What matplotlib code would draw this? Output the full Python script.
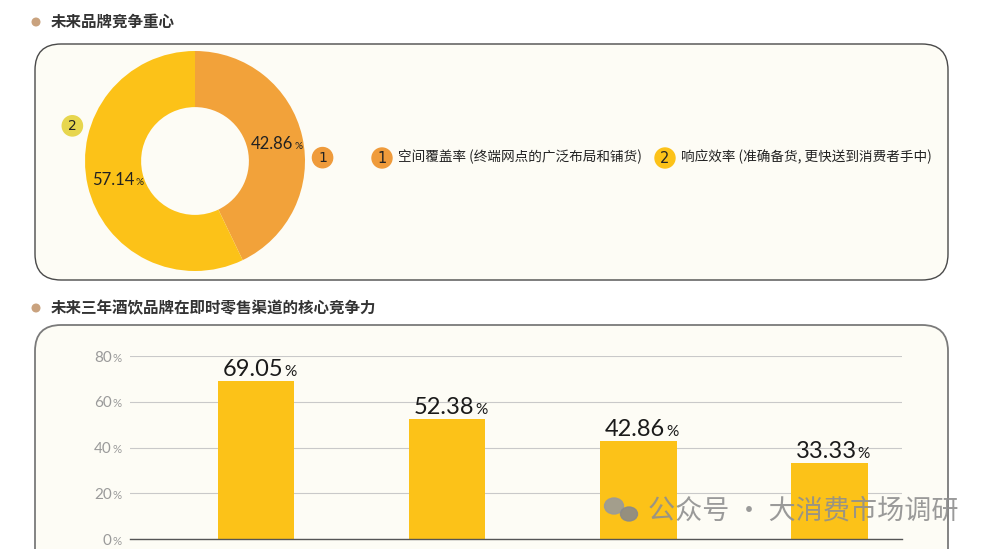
import numpy as np
import matplotlib
matplotlib.use('Agg')
import matplotlib.pyplot as plt
from matplotlib.patches import FancyBboxPatch, Circle, Ellipse
from matplotlib.transforms import offset_copy, blended_transform_factory

plt.rcParams['font.family'] = ['Noto Sans CJK SC', 'DejaVu Sans']

# data
title_top = '未来品牌竞争重心'
title_bottom = '未来三年酒饮品牌在即时零售渠道的核心竞争力'
focus_labels = ['空间覆盖率 (终端网点的广泛布局和铺货)', '响应效率 (准确备货, 更快送到消费者手中)']
focus_shares = [42.86, 57.14]
bar_values = [69.05, 52.38, 42.86, 33.33]
y_ticks = [0, 20, 40, 60, 80]
watermark = '公众号 · 大消费市场调研'

ORANGE = '#F2A23A'
YELLOW = '#FCC218'
PANEL = '#FDFCF5'
W, H = 990, 549

fig = plt.figure(figsize=(W / 100, H / 100), dpi=100)
fig.patch.set_facecolor('white')
renderer = fig.canvas.get_renderer()

# background layer in pixel units
bg = fig.add_axes([0, 0, 1, 1])
bg.set_xlim(0, W)
bg.set_ylim(H, 0)
bg.axis('off')

bg.add_patch(FancyBboxPatch((35, 44), 913, 236, boxstyle='round,pad=0,rounding_size=26',
                            fc=PANEL, ec='#4a4a4a', lw=1.0))
bg.add_patch(FancyBboxPatch((35, 325), 913, 260, boxstyle='round,pad=0,rounding_size=26',
                            fc=PANEL, ec='#7a7a7a', lw=1.3))

for ty, txt in [(22, title_top), (308, title_bottom)]:
    bg.add_patch(Circle((36, ty), 3.8, color='#C9A27E'))
    bg.text(51, ty, txt, fontsize=11.2, fontweight='bold', color='#333333', va='center')


def pct_text(ax, x, y, num, size, color, trans, align='center', dy=0.0, pct_scale=0.65, gap=0.6):
    t_num = ax.text(x, y, num, fontsize=size, color=color, family='Lato',
                    ha='left', va='baseline', transform=trans, clip_on=False)
    t_pct = ax.text(x, y, '%', fontsize=size * pct_scale, color=color, family='Lato',
                    ha='left', va='baseline', transform=trans, clip_on=False)
    w_num = t_num.get_window_extent(renderer).width * 72 / fig.dpi
    w_pct = t_pct.get_window_extent(renderer).width * 72 / fig.dpi
    total = w_num + gap + w_pct
    shift = {'center': -w_num / 2 - w_pct / 4, 'right': -total, 'left': 0}[align]
    t_num.set_transform(offset_copy(trans, fig=fig, x=shift, y=dy, units='points'))
    t_pct.set_transform(offset_copy(trans, fig=fig, x=shift + w_num + gap, y=dy, units='points'))


# donut
cx, cy, R = 195, 161, 110
half = 120
ax_d = fig.add_axes([(cx - half) / W, (H - cy - half) / H, 2 * half / W, 2 * half / H])
ax_d.set_facecolor('none')
ax_d.pie(focus_shares, colors=[ORANGE, YELLOW], startangle=90, counterclock=False,
         radius=1, wedgeprops=dict(width=0.51, edgecolor='none'))
lim = half / R
ax_d.set_xlim(-lim, lim)
ax_d.set_ylim(-lim, lim)
ax_d.set_aspect('equal')
ax_d.axis('off')

cum = np.cumsum([0] + focus_shares)
for i, v in enumerate(focus_shares):
    mid = np.deg2rad(90 - 360 * (cum[i] + v / 2) / 100)
    r = 0.74
    pct_text(ax_d, r * np.cos(mid), r * np.sin(mid), f'{v:.2f}', 12, '#222222',
             ax_d.transData, align='center', dy=-4.3, pct_scale=0.6)

marker_angles = [1.5, 164]
marker_colors = ['#EF9B3B', '#E7D64E']
for i, ang in enumerate(marker_angles):
    a = np.deg2rad(ang)
    mx, my = 1.16 * np.cos(a), 1.16 * np.sin(a)
    ax_d.add_patch(Circle((mx, my), 0.092, color=marker_colors[i], clip_on=False))
    ax_d.text(mx, my, str(i + 1), fontsize=10, color='#222222', ha='center', va='center',
              family='DejaVu Sans', clip_on=False)

# legend
legend_x = [382, 665]
legend_colors = ['#EF9B3B', YELLOW]
for i, lab in enumerate(focus_labels):
    bg.add_patch(Circle((legend_x[i], 158), 10, color=legend_colors[i]))
    bg.text(legend_x[i], 158.5, str(i + 1), fontsize=10.5, color='#222222', ha='center',
            va='center', family='DejaVu Sans')
    bg.text(legend_x[i] + 16, 157, lab, fontsize=9.8, color='#222222', va='center')

# bar chart
ax = fig.add_axes([130 / W, (H - 539) / H, (902 - 130) / W, (539 - 356) / H])
ax.set_facecolor('none')
x = np.arange(len(bar_values))
ax.bar(x, bar_values, width=0.40, color=YELLOW, zorder=2)
ax.set_xlim(-0.66, 3.38)
ax.set_ylim(0, 80)
ax.set_yticks(y_ticks)
ax.set_yticklabels([])
ax.set_xticks([])
ax.tick_params(length=0)
ax.yaxis.grid(True, color='#C9C9C9', lw=0.8)
ax.set_axisbelow(True)
for s in ['top', 'right', 'left']:
    ax.spines[s].set_visible(False)
ax.spines['bottom'].set_color('#555555')
ax.spines['bottom'].set_linewidth(1.0)

for xi, v in zip(x, bar_values):
    pct_text(ax, xi, v, f'{v:.2f}', 17, '#1a1a1a', ax.transData, align='center', dy=3.5)

ytrans = blended_transform_factory(ax.transAxes, ax.transData)
for t in y_ticks:
    pct_text(ax, -0.011, t, f'{t}', 11, '#9a9a9a', ytrans, align='right', dy=-4, pct_scale=0.75)

# watermark on top
top = fig.add_axes([0, 0, 1, 1], zorder=10)
top.set_xlim(0, W)
top.set_ylim(H, 0)
top.axis('off')
top.patch.set_alpha(0)
top.add_patch(Ellipse((614, 506), 19, 16, color='#9a9a9a', alpha=0.9))
top.add_patch(Ellipse((629, 514), 17, 14, color='#8a8a8a', alpha=0.9))
top.text(648, 511, watermark, fontsize=19.5, color='#8f8f8f', alpha=0.9, va='center')

fig.savefig('out.png', dpi=100, facecolor='white')
